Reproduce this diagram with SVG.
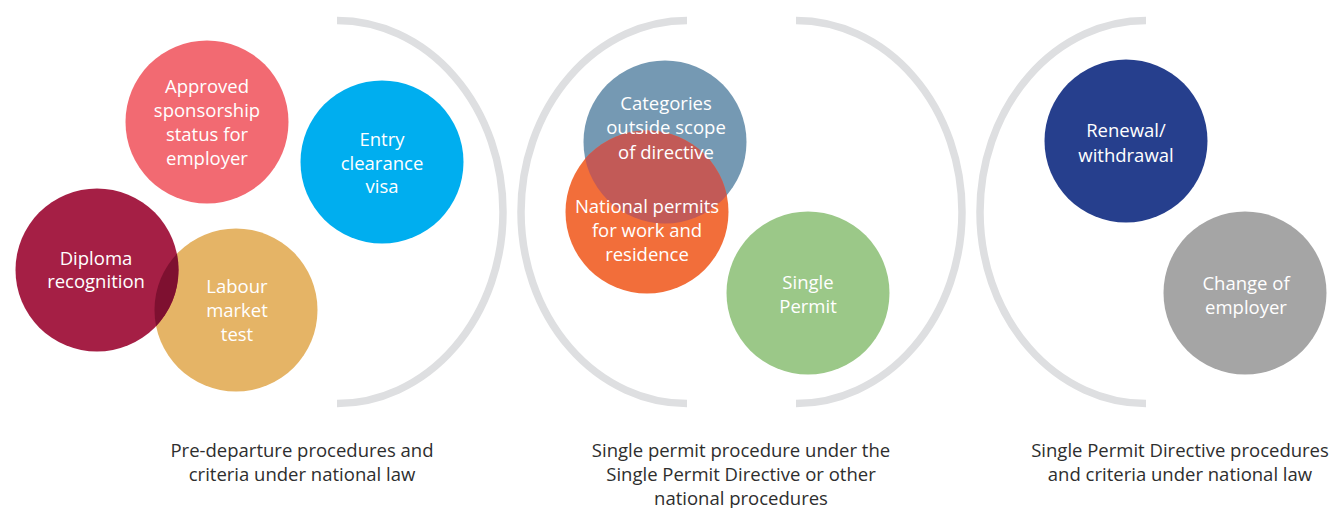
<svg xmlns="http://www.w3.org/2000/svg" width="1334" height="508" viewBox="0 0 1334 508">
<style>
.arc{fill:none;stroke:#DEDFE1;stroke-width:7.5}
.t{font-family:"Open Sans","Noto Sans",sans-serif;font-size:18.5px;fill:#fff;text-anchor:middle}
.cap{font-family:"Open Sans","Noto Sans",sans-serif;font-size:18.5px;fill:#2e2e2e;text-anchor:middle}
</style>
<defs>
<clipPath id="clipLabour"><circle cx="236" cy="310" r="81.5"/></clipPath>
<clipPath id="clipCat"><circle cx="665" cy="142" r="81.5"/></clipPath>
</defs>
<rect width="1334" height="508" fill="#fff"/>
<g id="brackets">
<path class="arc" d="M337 20.5 A166 191.5 0 0 1 337 403.5"/>
<path class="arc" d="M687 20.5 A166 191.5 0 0 0 687 403.5"/>
<path class="arc" d="M796 20.5 A166 191.5 0 0 1 796 403.5"/>
<path class="arc" d="M1146 20.5 A166 191.5 0 0 0 1146 403.5"/>
</g>
<g id="approved">
<circle cx="207" cy="122" r="81.5" fill="#F26A72"/>
<text class="t" x="207" y="93">Approved</text>
<text class="t" x="207" y="117">sponsorship</text>
<text class="t" x="207" y="141">status for</text>
<text class="t" x="207" y="165">employer</text>
</g>
<g id="entry">
<circle cx="382" cy="162" r="81.5" fill="#00AEEF"/>
<text class="t" x="382" y="146">Entry</text>
<text class="t" x="382" y="170">clearance</text>
<text class="t" x="382" y="193">visa</text>
</g>
<g id="labour">
<circle cx="236" cy="310" r="81.5" fill="#E5B466"/>
</g>
<g id="diploma">
<circle cx="97" cy="270" r="81.5" fill="#A51F45"/>
<circle cx="97" cy="270" r="81.5" fill="#7E1030" clip-path="url(#clipLabour)"/>
<text class="t" x="96" y="265">Diploma</text>
<text class="t" x="96" y="288">recognition</text>
</g>
<g id="labour-text">
<text class="t" x="237" y="293">Labour</text>
<text class="t" x="237" y="317">market</text>
<text class="t" x="237" y="341">test</text>
</g>
<g id="categories">
<circle cx="665" cy="142" r="81.5" fill="#7599B3"/>
</g>
<g id="national">
<circle cx="647" cy="212" r="81.5" fill="#F26E3A"/>
<circle cx="647" cy="212" r="81.5" fill="#C25A57" clip-path="url(#clipCat)"/>
<text class="t" x="647" y="213">National permits</text>
<text class="t" x="647" y="237">for work and</text>
<text class="t" x="647" y="261">residence</text>
</g>
<g id="categories-text">
<text class="t" x="666" y="110">Categories</text>
<text class="t" x="666" y="134">outside scope</text>
<text class="t" x="666" y="159">of directive</text>
</g>
<g id="single">
<circle cx="808" cy="293" r="81.5" fill="#9BC888"/>
<text class="t" x="808" y="289">Single</text>
<text class="t" x="808" y="313">Permit</text>
</g>
<g id="renewal">
<circle cx="1126" cy="141" r="81.5" fill="#263F8D"/>
<text class="t" x="1126" y="137">Renewal/</text>
<text class="t" x="1126" y="162">withdrawal</text>
</g>
<g id="change">
<circle cx="1245" cy="293" r="81.5" fill="#A5A5A5"/>
<text class="t" x="1246" y="290">Change of</text>
<text class="t" x="1246" y="314">employer</text>
</g>
<g id="captions">
<text class="cap" x="302" y="457">Pre-departure procedures and</text>
<text class="cap" x="302" y="481">criteria under national law</text>
<text class="cap" x="741" y="457">Single permit procedure under the</text>
<text class="cap" x="741" y="481">Single Permit Directive or other</text>
<text class="cap" x="741" y="505">national procedures</text>
<text class="cap" x="1180" y="457">Single Permit Directive procedures</text>
<text class="cap" x="1180" y="481">and criteria under national law</text>
</g>
</svg>
